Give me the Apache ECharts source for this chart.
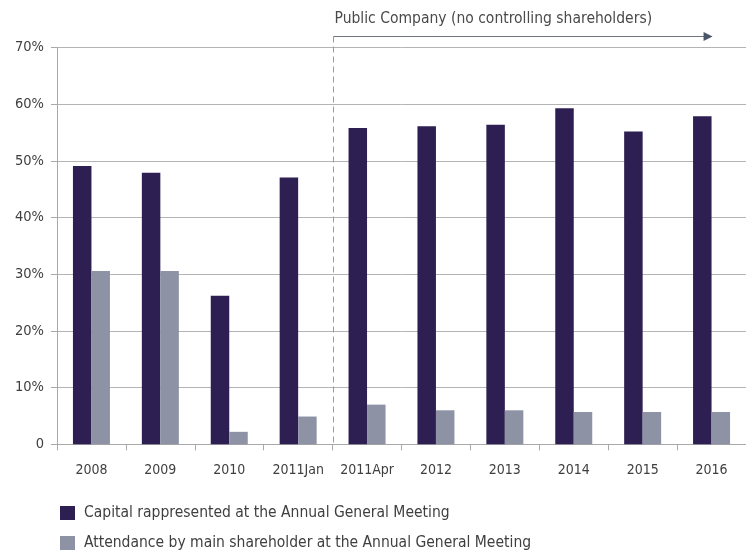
<!DOCTYPE html>
<html>
<head>
<meta charset="utf-8">
<script src="https://cdn.jsdelivr.net/npm/echarts@6/dist/echarts.min.js"></script>
<style>
  html, body { margin: 0; padding: 0; background: #ffffff; }
  #chart { width: 746px; height: 555px; }
</style>
</head>
<body>
<div id="chart"></div>
<script>
const categories = ['2008', '2009', '2010', '2011Jan', '2011Apr', '2012', '2013', '2014', '2015', '2016'];
const capitalRepresented = [49.1, 47.9, 26.2, 47.1, 55.8, 56.1, 56.4, 59.3, 55.2, 57.9];
const mainShareholder = [30.6, 30.6, 2.2, 4.9, 7.0, 6.0, 6.0, 5.7, 5.7, 5.7];
const yTicks = [0, 10, 20, 30, 40, 50, 60, 70];
const seriesNames = [
  'Capital rappresented at the Annual General Meeting',
  'Attendance by main shareholder at the Annual General Meeting'
];
const publicLabel = 'Public Company (no controlling shareholders)';
const publicFromIndex = 4;

const FONT = '"DejaVu Sans Condensed", "DejaVu Sans", sans-serif';
const DARK = '#2e1f52';
const GREY = '#8e92a5';
const AXIS = '#a9a9a9';
const TEXT = '#3f3f3f';

const chart = echarts.init(document.getElementById('chart'), null, { renderer: 'canvas' });

chart.setOption({
  backgroundColor: '#ffffff',
  animation: false,
  textStyle: { fontFamily: FONT },
  grid: { left: 57, right: -5, top: 47.6, bottom: 110.7, containLabel: false },
  legend: {
    orient: 'vertical',
    left: 60,
    top: 505,
    padding: 0,
    itemWidth: 15,
    itemHeight: 14,
    itemGap: 14,
    icon: 'rect',
    textStyle: { fontFamily: FONT, fontSize: 15.5, lineHeight: 14, color: TEXT, padding: [0, 0, 0, 4] },
    data: seriesNames
  },
  xAxis: {
    type: 'category',
    data: categories,
    axisLine: { lineStyle: { color: AXIS, width: 1 } },
    axisTick: { show: true, interval: 0, length: 6, lineStyle: { color: AXIS } },
    axisLabel: { interval: 0, fontFamily: FONT, fontSize: 14, color: TEXT, margin: 19 }
  },
  yAxis: {
    type: 'value',
    min: yTicks[0],
    max: yTicks[yTicks.length - 1],
    interval: 10,
    axisLine: { show: true, lineStyle: { color: AXIS, width: 1 } },
    axisTick: { show: true, length: 6, lineStyle: { color: AXIS } },
    splitLine: { show: true, lineStyle: { color: '#b4b4b4', width: 1 } },
    axisLabel: {
      fontFamily: FONT, fontSize: 14.5, color: TEXT, margin: 13,
      formatter: v => (v === 0 ? '0' : v + '%')
    }
  },
  series: [
    {
      name: seriesNames[0],
      type: 'bar',
      data: capitalRepresented,
      barWidth: 18.5,
      barGap: '0%',
      itemStyle: { color: DARK }
    },
    {
      name: seriesNames[1],
      type: 'bar',
      data: mainShareholder,
      barWidth: 18.5,
      barGap: '0%',
      itemStyle: { color: GREY }
    }
  ]
});

// Divider between private and public periods, plus the arrow annotation
function drawAnnotation() {
  const a = chart.convertToPixel({ xAxisIndex: 0 }, categories[publicFromIndex - 1]);
  const b = chart.convertToPixel({ xAxisIndex: 0 }, categories[publicFromIndex]);
  const end = chart.convertToPixel({ xAxisIndex: 0 }, categories[categories.length - 1]);
  const bx = Math.round((a + b) / 2) + 0.5;
  const y0 = chart.convertToPixel({ yAxisIndex: 0 }, 0);
  const arrowY = 36.5;
  chart.setOption({
    graphic: [
      {
        type: 'line', silent: true,
        shape: { x1: bx, y1: arrowY, x2: bx, y2: y0 },
        style: { stroke: '#9a9a9a', lineWidth: 1, lineDash: [6, 4] }
      },
      {
        type: 'line', silent: true,
        shape: { x1: bx, y1: arrowY, x2: end - 6, y2: arrowY },
        style: { stroke: '#6f7480', lineWidth: 1 }
      },
      {
        type: 'polygon', silent: true,
        shape: { points: [[end - 8, arrowY - 4.5], [end + 1, arrowY], [end - 8, arrowY + 4.5]] },
        style: { fill: '#4a5568' }
      },
      {
        type: 'text', silent: true,
        x: bx + 1, y: 19,
        style: {
          text: publicLabel, fontFamily: FONT, fontSize: 15.5, fill: '#4a4a4a',
          verticalAlign: 'middle', align: 'left'
        }
      }
    ]
  });
}
drawAnnotation();
</script>
</body>
</html>
